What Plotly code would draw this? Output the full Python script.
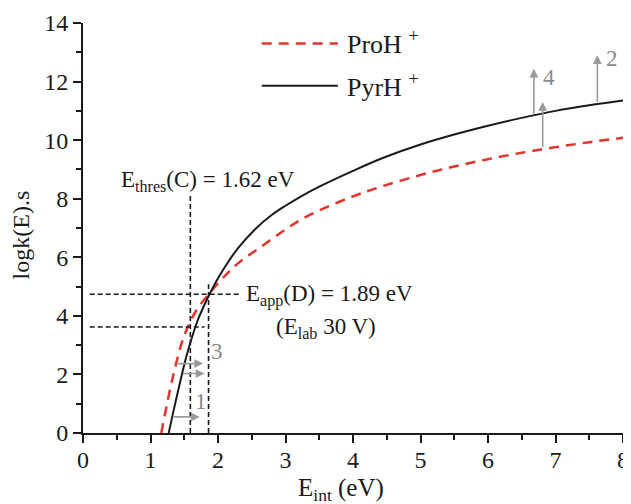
import plotly.graph_objects as go

# ---------------- data ----------------
# PyrH+ (solid black curve)
pyr_x = [1.27, 1.35, 1.45, 1.53, 1.60, 1.70, 1.80, 1.87, 2.00, 2.15, 2.30, 2.55, 2.80,
         3.00, 3.20, 3.50, 4.00, 4.44, 5.00, 5.50, 6.00, 6.50, 7.00, 7.50, 8.00]
pyr_y = [0.00, 0.85, 1.85, 2.60, 3.16, 3.85, 4.38, 4.72, 5.28, 5.84, 6.32, 6.96, 7.45,
         7.76, 8.04, 8.41, 8.95, 9.39, 9.85, 10.19, 10.49, 10.76, 11.00, 11.19, 11.35]

# ProH+ (dashed red curve)
proh_x = [1.16, 1.25, 1.35, 1.45, 1.53, 1.62, 1.72, 1.87, 2.07, 2.30, 2.62, 3.00,
          3.21, 3.50, 4.00, 4.44, 5.00, 5.50, 6.00, 6.50, 7.00, 7.50, 8.00]
proh_y = [0.00, 1.05, 2.10, 2.98, 3.50, 3.95, 4.33, 4.76, 5.29, 5.80, 6.33, 6.95,
          7.26, 7.60, 8.08, 8.43, 8.81, 9.10, 9.35, 9.57, 9.76, 9.93, 10.08]

series_names = ["ProH <sup>+</sup>", "PyrH <sup>+</sup>"]

x_ticks = [0, 1, 2, 3, 4, 5, 6, 7, 8]
y_ticks = [0, 2, 4, 6, 8, 10, 12, 14]

# guide (dashed) lines
thres_x, thres_top = 1.59, 8.10        # E_thres(C)
app_x, app_top = 1.86, 5.08            # E_app(D)
app_y, app_xstart, app_xend = 4.74, 0.10, 2.32
thr_y, thr_xstart, thr_xend = 3.62, 0.10, 1.80

# gray step arrows
h_tail_x = [1.32, 1.38, 1.46]
h_head_x = [1.73, 1.78, 1.80]
h_y = [0.55, 2.37, 2.03]
v_x = [6.68, 6.81, 7.62]
v_tail_y = [10.85, 9.71, 11.25]
v_head_y = [12.44, 11.30, 12.90]
step_text = ["1", "3", "4", "2"]
step_x = [1.75, 1.99, 6.90, 7.83]
step_y = [1.06, 2.77, 12.15, 12.78]

FONT = "Liberation Serif"
RED = "#e3342c"
INK = "#1a1a1a"
GRAY = "#9a9a9a"

fig = go.Figure()

fig.add_trace(go.Scatter(x=proh_x, y=proh_y, mode="lines", name=series_names[0],
                         line=dict(color=RED, width=2.5, dash="10px,7px", shape="spline", smoothing=1.0),
                         showlegend=False))
fig.add_trace(go.Scatter(x=pyr_x, y=pyr_y, mode="lines", name=series_names[1],
                         line=dict(color=INK, width=2, shape="spline", smoothing=1.0),
                         showlegend=False))

dash_style = dict(color=INK, width=1.6, dash="5px,3px")
fig.add_trace(go.Scatter(x=[thres_x, thres_x], y=[0, thres_top], mode="lines",
                         line=dash_style, showlegend=False, hoverinfo="skip"))
fig.add_trace(go.Scatter(x=[app_x, app_x], y=[0, app_top], mode="lines",
                         line=dash_style, showlegend=False, hoverinfo="skip"))
fig.add_trace(go.Scatter(x=[app_xstart, app_xend], y=[app_y, app_y], mode="lines",
                         line=dash_style, showlegend=False, hoverinfo="skip"))
fig.add_trace(go.Scatter(x=[thr_xstart, thr_xend], y=[thr_y, thr_y], mode="lines",
                         line=dash_style, showlegend=False, hoverinfo="skip"))

annotations = []
for tx, hx, yy in zip(h_tail_x, h_head_x, h_y):
    annotations.append(dict(x=hx, y=yy, ax=tx, ay=yy, xref="x", yref="y", axref="x", ayref="y",
                            showarrow=True, arrowhead=2, arrowsize=1.1, arrowwidth=1.6,
                            arrowcolor=GRAY, text=""))
for xx, ty, hy in zip(v_x, v_tail_y, v_head_y):
    annotations.append(dict(x=xx, y=hy, ax=xx, ay=ty, xref="x", yref="y", axref="x", ayref="y",
                            showarrow=True, arrowhead=2, arrowsize=1.1, arrowwidth=1.6,
                            arrowcolor=GRAY, text=""))
for t, xx, yy in zip(step_text, step_x, step_y):
    annotations.append(dict(x=xx, y=yy, xref="x", yref="y", text=t, showarrow=False,
                            xanchor="center", yanchor="middle",
                            font=dict(family=FONT, size=23, color="#8a8a8a")))

annotations += [
    dict(x=0.53, y=8.62, xref="x", yref="y", xanchor="left", yanchor="middle", showarrow=False,
         text="E<sub>thres</sub>(C) = 1.62 eV", font=dict(family=FONT, size=23, color=INK)),
    dict(x=2.38, y=4.70, xref="x", yref="y", xanchor="left", yanchor="middle", showarrow=False,
         text="E<sub>app</sub>(D) = 1.89 eV", font=dict(family=FONT, size=23, color=INK)),
    dict(x=2.83, y=3.60, xref="x", yref="y", xanchor="left", yanchor="middle", showarrow=False,
         text="(E<sub>lab</sub> 30 V)", font=dict(family=FONT, size=23, color=INK)),
    # legend text
    dict(x=0.485, y=0.952, xref="paper", yref="paper", xanchor="left", yanchor="middle",
         showarrow=False, text=series_names[0], font=dict(family=FONT, size=26, color=INK)),
    dict(x=0.485, y=0.848, xref="paper", yref="paper", xanchor="left", yanchor="middle",
         showarrow=False, text=series_names[1], font=dict(family=FONT, size=26, color=INK)),
    # axis titles
    dict(x=-0.114, y=0.483, xref="paper", yref="paper", textangle=-90, showarrow=False,
         xanchor="center", yanchor="middle",
         text="logk(E).s", font=dict(family=FONT, size=24, color=INK)),
    dict(x=0.478, y=-0.137, xref="paper", yref="paper", showarrow=False,
         xanchor="center", yanchor="middle",
         text="E<sub>int</sub> (eV)", font=dict(family=FONT, size=25, color=INK)),
]

shapes = [
    dict(type="line", xref="paper", yref="paper", x0=0.331, x1=0.472, y0=0.950, y1=0.950,
         line=dict(color=RED, width=2.5, dash="10px,7px")),
    dict(type="line", xref="paper", yref="paper", x0=0.331, x1=0.472, y0=0.847, y1=0.847,
         line=dict(color=INK, width=2)),
]

# the page body adds an 8px margin, so the figure is sized/margined to compensate
fig.update_layout(
    width=623, height=496,
    margin=dict(l=75, r=8, t=15, b=71),
    paper_bgcolor="white", plot_bgcolor="white",
    font=dict(family=FONT, color=INK),
    annotations=annotations, shapes=shapes,
    showlegend=False,
)
fig.update_xaxes(range=[0, 8], tickvals=x_ticks, ticktext=[str(v) for v in x_ticks],
                 automargin=False, ticklabelstandoff=-4,
                 showgrid=False, zeroline=False, showline=True, linecolor=INK, linewidth=2,
                 ticks="outside", ticklen=8, tickwidth=2, tickcolor=INK,
                 tickfont=dict(family=FONT, size=24, color=INK),
                 minor=dict(dtick=0.5, tick0=0, ticks="outside", ticklen=5, tickwidth=1.5, tickcolor=INK))
fig.update_yaxes(range=[0, 14], tickvals=y_ticks, ticktext=[str(v) for v in y_ticks],
                 automargin=False,
                 showgrid=False, zeroline=False, showline=True, linecolor=INK, linewidth=2,
                 ticks="outside", ticklen=8, tickwidth=2, tickcolor=INK,
                 tickfont=dict(family=FONT, size=24, color=INK),
                 minor=dict(dtick=1, tick0=0, ticks="outside", ticklen=5, tickwidth=1.5, tickcolor=INK))

fig.write_html("out.html")
